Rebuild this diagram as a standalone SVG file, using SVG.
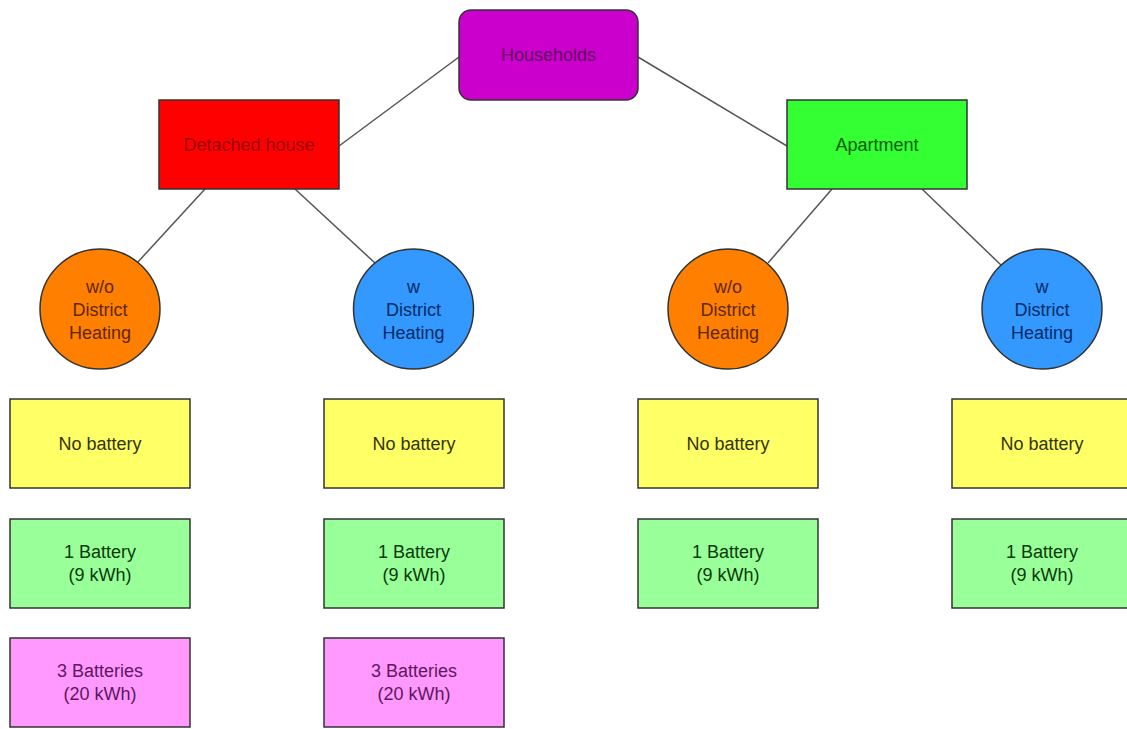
<svg xmlns="http://www.w3.org/2000/svg" width="1127" height="729" viewBox="0 0 1127 729">
<style>
text{font-family:"Liberation Sans",Arial,sans-serif;font-size:18px;text-anchor:middle}
.box{stroke:#333;stroke-width:1.5}
.con{stroke:#555;stroke-width:1.5;fill:none}
.yel{fill:#ffff66}.grn{fill:#99ff99}.pnk{fill:#ff99ff}
.ty{fill:#333300}.tg{fill:#0a3a0a}.tp{fill:#601660}
.orc{fill:#ff8000}.blc{fill:#3399ff}
.to{fill:#602600}.tb{fill:#002a66}
</style>
<rect width="1127" height="729" fill="#fff"/>
<g id="connectors">
<line class="con" x1="459" y1="57" x2="339" y2="146"/>
<line class="con" x1="638" y1="57" x2="787" y2="146"/>
<line class="con" x1="205" y1="189" x2="137" y2="263"/>
<line class="con" x1="295" y1="189" x2="375" y2="263"/>
<line class="con" x1="832" y1="189" x2="768" y2="263"/>
<line class="con" x1="922" y1="189" x2="1001" y2="265"/>
</g>
<g id="households">
<rect class="box" x="459" y="10" width="179" height="90" rx="12" fill="#cc00cc" stroke="#552255"/>
<text x="548.5" y="61" fill="#600a60">Households</text>
</g>
<g id="detached">
<rect class="box" x="159" y="100" width="180" height="89" fill="#ff0000"/>
<text x="249" y="151" fill="#9a0000">Detached house</text>
</g>
<g id="apartment">
<rect class="box" x="787" y="100" width="180" height="89" fill="#33ff33"/>
<text x="877" y="151" fill="#005a00">Apartment</text>
</g>
<g id="dh-wo">
<circle class="box orc" cx="100" cy="309" r="60"/>
<text class="to" x="100" y="293">w/o</text><text class="to" x="100" y="316">District</text><text class="to" x="100" y="339">Heating</text>
</g>
<g id="dh-w">
<circle class="box blc" cx="413.5" cy="309" r="60"/>
<text class="tb" x="413.5" y="293">w</text><text class="tb" x="413.5" y="316">District</text><text class="tb" x="413.5" y="339">Heating</text>
</g>
<g id="ap-wo">
<circle class="box orc" cx="728" cy="309" r="60"/>
<text class="to" x="728" y="293">w/o</text><text class="to" x="728" y="316">District</text><text class="to" x="728" y="339">Heating</text>
</g>
<g id="ap-w">
<circle class="box blc" cx="1042" cy="309" r="60"/>
<text class="tb" x="1042" y="293">w</text><text class="tb" x="1042" y="316">District</text><text class="tb" x="1042" y="339">Heating</text>
</g>
<g id="c1-none">
<rect class="box yel" x="10" y="399" width="180" height="89"/>
<text class="ty" x="100" y="450">No battery</text>
</g>
<g id="c1-one">
<rect class="box grn" x="10" y="519" width="180" height="89"/>
<text class="tg" x="100" y="558">1 Battery</text><text class="tg" x="100" y="581">(9 kWh)</text>
</g>
<g id="c1-three">
<rect class="box pnk" x="10" y="638" width="180" height="89"/>
<text class="tp" x="100" y="677">3 Batteries</text><text class="tp" x="100" y="700">(20 kWh)</text>
</g>
<g id="c2-none">
<rect class="box yel" x="324" y="399" width="180" height="89"/>
<text class="ty" x="414" y="450">No battery</text>
</g>
<g id="c2-one">
<rect class="box grn" x="324" y="519" width="180" height="89"/>
<text class="tg" x="414" y="558">1 Battery</text><text class="tg" x="414" y="581">(9 kWh)</text>
</g>
<g id="c2-three">
<rect class="box pnk" x="324" y="638" width="180" height="89"/>
<text class="tp" x="414" y="677">3 Batteries</text><text class="tp" x="414" y="700">(20 kWh)</text>
</g>
<g id="c3-none">
<rect class="box yel" x="638" y="399" width="180" height="89"/>
<text class="ty" x="728" y="450">No battery</text>
</g>
<g id="c3-one">
<rect class="box grn" x="638" y="519" width="180" height="89"/>
<text class="tg" x="728" y="558">1 Battery</text><text class="tg" x="728" y="581">(9 kWh)</text>
</g>
<g id="c4-none">
<rect class="box yel" x="952" y="399" width="180" height="89"/>
<text class="ty" x="1042" y="450">No battery</text>
</g>
<g id="c4-one">
<rect class="box grn" x="952" y="519" width="180" height="89"/>
<text class="tg" x="1042" y="558">1 Battery</text><text class="tg" x="1042" y="581">(9 kWh)</text>
</g>
</svg>
